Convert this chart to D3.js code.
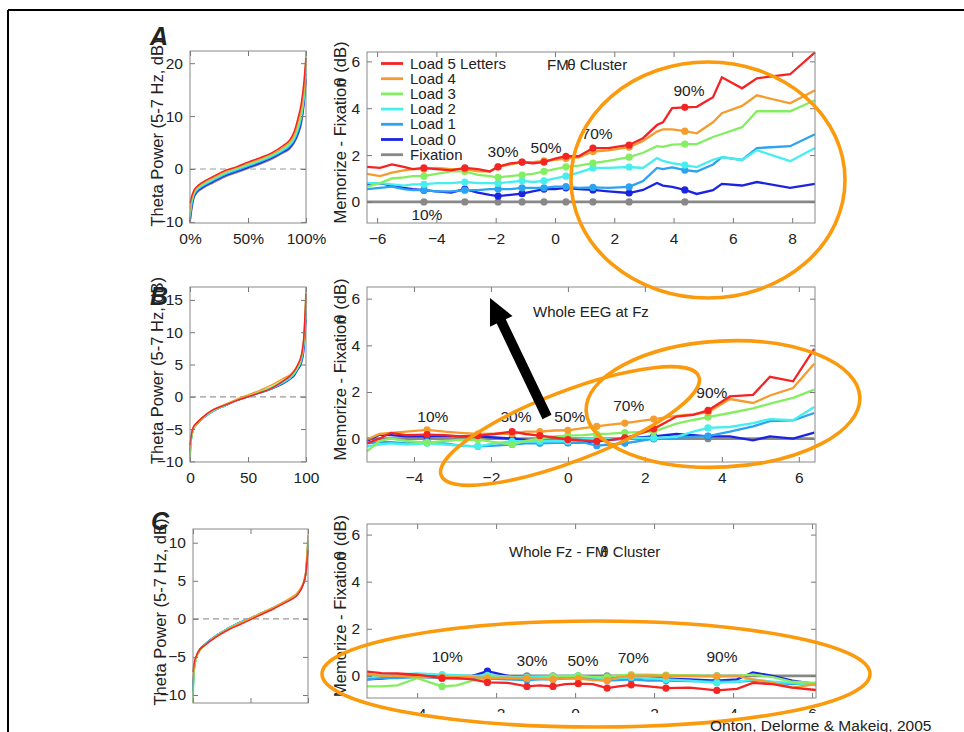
<!DOCTYPE html>
<html>
<head>
<meta charset="utf-8">
<script src="https://cdnjs.cloudflare.com/ajax/libs/d3/7.8.5/d3.min.js"></script>
<style>
  body { margin: 0; background: #fff; }
  text { font-family: "Liberation Sans", Arial, sans-serif; fill: #222; }
</style>
</head>
<body>
<div id="chart"></div>
<script>
var width = 964, height = 732;

// series: Load 5 .. Load 0, Fixation
var names = ["Load 5 Letters", "Load 4", "Load 3", "Load 2", "Load 1", "Load 0", "Fixation"];
var colors = ["#f42424", "#f59c2c", "#84ee62", "#46eeee", "#2ca2f2", "#1c24e2", "#888888"];

// left panels: sorted theta power by percentile
var pct = [0, 1, 3, 6, 10, 20, 30, 40, 50, 60, 70, 80, 86, 90, 93, 96, 98, 100];
var sortedA = [
  [-6.5, -5.5, -4.2, -3.3, -2.6, -1.4, -0.3, 0.4, 1.3, 2.1, 3.0, 4.4, 5.5, 7.2, 9.5, 12.5, 16, 21],
  [-7.5, -6, -4.5, -3.5, -2.8, -1.6, -0.5, 0.3, 1.1, 1.9, 2.8, 4.1, 5.2, 6.6, 8.8, 11.5, 14.5, 20],
  [-8.5, -6.5, -4.8, -3.7, -3.0, -1.8, -0.7, 0.1, 0.9, 1.7, 2.6, 3.9, 4.9, 6.2, 8.0, 10.5, 13.5, 22.3],
  [-9, -7, -5, -3.9, -3.2, -2.0, -0.9, -0.1, 0.7, 1.5, 2.4, 3.6, 4.6, 5.8, 7.5, 10, 13, 19],
  [-9.5, -7.5, -5.3, -4.1, -3.4, -2.2, -1.1, -0.3, 0.5, 1.3, 2.2, 3.4, 4.3, 5.5, 7.0, 9.5, 12.5, 18],
  [-10, -8, -5.6, -4.3, -3.6, -2.4, -1.3, -0.5, 0.3, 1.1, 2.0, 3.2, 4.0, 5.2, 6.6, 9, 12, 17],
  [-10.2, -8.5, -5.8, -4.5, -3.8, -2.6, -1.5, -0.7, 0.1, 0.9, 1.8, 3.0, 3.8, 5.0, 6.4, 8.5, 11.5, 16.5]
];
var sortedB = [
  [-7.5, -6, -4.6, -4.0, -3.3, -2.0, -1.3, -0.6, 0.0, 0.6, 1.3, 2.4, 3.2, 4.0, 5.0, 6.5, 9, 16],
  [-8, -6.3, -4.8, -4.1, -3.4, -2.0, -1.2, -0.4, 0.3, 1.0, 1.8, 2.8, 3.4, 4.1, 5.0, 6.3, 8.5, 15],
  [-10, -7, -5, -4.2, -3.4, -2.1, -1.3, -0.5, 0.1, 0.8, 1.5, 2.5, 3.1, 3.8, 4.6, 6.0, 8.5, 17],
  [-9.5, -6.8, -5, -4.2, -3.5, -2.2, -1.4, -0.6, 0.0, 0.6, 1.3, 2.2, 2.9, 3.6, 4.5, 5.8, 8, 14],
  [-9, -6.8, -5, -4.3, -3.5, -2.2, -1.4, -0.6, 0.0, 0.6, 1.2, 2.1, 2.8, 3.5, 4.4, 5.5, 7.5, 13],
  [-8.5, -6.5, -4.9, -4.2, -3.5, -2.2, -1.4, -0.6, 0.0, 0.6, 1.2, 2.0, 2.7, 3.3, 4.2, 5.2, 7, 12],
  [-9, -6.7, -5, -4.2, -3.5, -2.2, -1.4, -0.6, 0.0, 0.6, 1.3, 2.2, 2.9, 3.6, 4.5, 5.6, 7.8, 13.5]
];
var sortedC = [
  [-7, -5.8, -4.8, -4.0, -3.5, -2.4, -1.5, -0.8, -0.1, 0.6, 1.3, 2.1, 2.6, 3.0, 3.6, 4.6, 5.8, 9],
  [-8, -6.2, -5, -4.1, -3.5, -2.3, -1.4, -0.6, 0.1, 0.8, 1.5, 2.3, 2.9, 3.3, 3.9, 4.8, 6.2, 11],
  [-11, -7, -5.2, -4.2, -3.6, -2.3, -1.4, -0.6, 0.1, 0.8, 1.5, 2.3, 2.8, 3.2, 3.8, 4.7, 6, 10],
  [-10, -6.8, -5.1, -4.1, -3.5, -2.2, -1.3, -0.5, 0.1, 0.8, 1.5, 2.3, 2.8, 3.2, 3.8, 4.7, 6, 10.5],
  [-9.5, -6.6, -5.0, -4.0, -3.4, -2.2, -1.3, -0.5, 0.1, 0.8, 1.5, 2.2, 2.7, 3.2, 3.8, 4.7, 6, 10],
  [-9, -6.5, -5, -4.0, -3.4, -2.2, -1.3, -0.5, 0.1, 0.8, 1.4, 2.2, 2.7, 3.1, 3.7, 4.6, 5.9, 9.8],
  [-9.5, -6.7, -5, -4.0, -3.4, -2.2, -1.3, -0.5, 0.1, 0.8, 1.5, 2.3, 2.8, 3.2, 3.8, 4.7, 6, 10.2]
];

// right panels: memorize - fixation vs fixation theta power (dB)
var xA = [-6.34, -5.9, -5.5, -5.1, -4.8, -4.42, -4.0, -3.5, -3.04, -2.6, -2.2, -1.92, -1.5, -1.11, -0.75, -0.37, 0.0, 0.37, 0.8, 1.28, 1.8, 2.5, 2.97, 3.44, 3.64, 3.95, 4.38, 4.78, 5.33, 5.63, 6.31, 6.81, 7.93, 8.77];
var diffA = [
  [1.5, 1.45, 1.6, 1.5, 1.4, 1.45, 1.4, 1.35, 1.45, 1.4, 1.3, 1.5, 1.65, 1.7, 1.65, 1.7, 1.85, 1.95, 1.95, 2.3, 2.3, 2.43, 2.72, 3.28, 3.4, 4.0, 4.04, 4.06, 4.47, 5.32, 4.85, 5.28, 5.45, 6.38],
  [1.2, 1.1, 1.25, 1.35, 1.4, 1.4, 1.45, 1.4, 1.4, 1.3, 1.3, 1.5, 1.6, 1.7, 1.7, 1.75, 1.8, 1.85, 1.9, 2.15, 2.2, 2.34, 2.6, 3.0, 3.1, 3.1, 3.02, 2.93, 3.4, 3.79, 4.1, 4.55, 4.21, 4.77],
  [0.65, 0.8, 1.0, 1.05, 1.1, 1.1, 1.2, 1.3, 1.3, 1.15, 1.1, 1.05, 1.1, 1.15, 1.2, 1.3, 1.4, 1.5, 1.55, 1.66, 1.75, 1.91, 2.1, 2.38, 2.35, 2.45, 2.47, 2.47, 2.77, 2.9, 3.19, 3.87, 3.87, 4.34],
  [0.8, 0.8, 0.75, 0.7, 0.75, 0.75, 0.8, 0.8, 0.85, 0.8, 0.8, 0.8, 0.85, 0.9, 0.85, 0.9, 1.0, 1.1, 1.25, 1.45, 1.45, 1.49, 1.45, 1.87, 1.75, 1.66, 1.57, 1.49, 1.8, 1.91, 1.79, 2.21, 1.74, 2.3],
  [0.55, 0.6, 0.65, 0.55, 0.5, 0.5, 0.45, 0.45, 0.5, 0.5, 0.55, 0.55, 0.55, 0.6, 0.6, 0.6, 0.65, 0.65, 0.6, 0.62, 0.6, 0.64, 0.89, 1.45, 1.4, 1.47, 1.36, 1.3, 1.6, 1.91, 1.79, 2.3, 2.38, 2.89],
  [0.75, 0.8, 0.7, 0.6, 0.55, 0.5, 0.45, 0.4, 0.55, 0.4, 0.3, 0.25, 0.3, 0.35, 0.45, 0.55, 0.55, 0.6, 0.55, 0.51, 0.45, 0.38, 0.51, 0.81, 0.7, 0.64, 0.51, 0.34, 0.5, 0.77, 0.7, 0.85, 0.6, 0.77],
  [0, 0, 0, 0, 0, 0, 0, 0, 0, 0, 0, 0, 0, 0, 0, 0, 0, 0, 0, 0, 0, 0, 0, 0, 0, 0, 0, 0, 0, 0, 0, 0, 0, 0]
];
var decA = [5, 8, 11, 13, 15, 17, 19, 21, 26];

var xB = [-5.22, -4.9, -4.6, -4.2, -3.66, -3.2, -2.8, -2.34, -1.9, -1.45, -1.1, -0.73, -0.35, 0, 0.4, 0.75, 1.1, 1.48, 1.85, 2.23, 2.82, 3.26, 3.64, 4.21, 4.81, 5.25, 5.85, 6.4];
var diffB = [
  [-0.2, 0.0, 0.25, 0.15, 0.17, 0.15, 0.1, 0.13, 0.2, 0.3, 0.2, 0.13, 0.05, -0.04, -0.07, -0.11, -0.05, 0.03, 0.2, 0.42, 0.95, 1.02, 1.21, 1.81, 1.88, 2.65, 2.46, 3.85],
  [-0.04, 0.2, 0.25, 0.3, 0.38, 0.3, 0.25, 0.2, 0.22, 0.2, 0.3, 0.3, 0.35, 0.36, 0.45, 0.53, 0.6, 0.67, 0.75, 0.84, 0.98, 1.05, 1.13, 1.7, 1.53, 1.85, 2.17, 3.21],
  [-0.54, -0.1, 0.0, -0.1, -0.17, -0.1, -0.05, -0.04, -0.15, -0.25, -0.1, 0.0, 0.1, 0.13, 0.15, 0.2, 0.22, 0.26, 0.28, 0.3, 0.64, 0.8, 0.92, 1.1, 1.3, 1.5, 1.75, 2.1],
  [-0.33, -0.25, -0.2, -0.25, -0.2, -0.25, -0.3, -0.33, -0.2, -0.11, -0.12, -0.11, -0.11, -0.11, -0.02, 0.0, -0.02, 0.0, 0.03, 0.03, 0.08, 0.3, 0.46, 0.5, 0.67, 0.84, 0.79, 1.36],
  [-0.2, -0.15, -0.15, -0.2, -0.13, -0.2, -0.3, -0.33, -0.3, -0.25, -0.2, -0.2, -0.18, -0.18, -0.16, -0.3, -0.25, -0.2, -0.1, 0.0, 0.05, 0.08, 0.11, 0.3, 0.53, 0.75, 0.79, 1.1],
  [-0.1, 0.17, 0.15, 0.1, 0.1, 0.12, 0.1, 0.1, 0.05, 0.0, -0.05, -0.1, -0.15, -0.17, -0.16, -0.1, -0.05, 0.0, 0.05, 0.1, 0.2, 0.15, 0.1, 0.1, -0.07, 0.1, 0.0, 0.26],
  [0, 0, 0, 0, 0, 0, 0, 0, 0, 0, 0, 0, 0, 0, 0, 0, 0, 0, 0, 0, 0, 0, 0, 0, 0, 0, 0, 0]
];
var decB = [4, 7, 9, 11, 13, 15, 17, 19, 22];

var xC = [-5.27, -4.9, -4.5, -4.0, -3.37, -3.0, -2.6, -2.22, -1.7, -1.22, -0.9, -0.56, -0.25, 0.08, 0.45, 0.81, 1.1, 1.42, 1.85, 2.30, 2.9, 3.59, 4.1, 4.5, 5.0, 5.5, 6.1];
var diffC = [
  [0.18, 0.12, 0.1, 0.05, -0.1, -0.1, -0.15, -0.28, -0.3, -0.45, -0.4, -0.45, -0.35, -0.33, -0.35, -0.52, -0.45, -0.38, -0.45, -0.52, -0.5, -0.62, -0.55, -0.3, -0.35, -0.5, -0.6],
  [0.07, 0.0, 0.0, -0.05, -0.05, -0.05, -0.05, -0.1, -0.08, -0.1, -0.12, -0.15, -0.1, -0.12, -0.18, -0.2, -0.05, 0.0, 0.02, 0.0, 0.0, -0.02, 0.0, -0.15, -0.3, -0.5, -0.35],
  [-0.45, -0.45, -0.4, -0.1, -0.45, -0.4, -0.2, -0.05, -0.1, -0.1, -0.1, -0.05, 0.0, 0.0, -0.05, -0.05, 0.02, 0.05, 0.05, 0.03, 0.02, 0.0, 0.0, 0.05, -0.05, -0.25, -0.3],
  [-0.05, 0.0, 0.05, 0.1, 0.05, 0.03, 0.0, 0.02, -0.02, -0.05, -0.03, -0.02, 0.0, 0.0, -0.05, -0.15, -0.1, -0.05, -0.1, -0.15, -0.2, -0.3, -0.25, -0.15, -0.25, -0.3, -0.4],
  [-0.15, -0.1, -0.1, -0.05, -0.1, -0.12, -0.1, -0.12, -0.15, -0.18, -0.15, -0.15, -0.12, -0.1, -0.15, -0.2, -0.18, -0.15, -0.2, -0.2, -0.22, -0.25, -0.25, -0.2, -0.3, -0.35, -0.3],
  [-0.15, -0.12, -0.05, 0.05, 0.0, -0.05, 0.0, 0.2, 0.0, -0.05, -0.05, -0.08, -0.05, -0.02, -0.05, -0.1, -0.05, -0.05, -0.1, -0.12, -0.15, -0.2, -0.15, 0.15, 0.0, -0.2, -0.35],
  [0, 0, 0, 0, 0, 0, 0, 0, 0, 0, 0, 0, 0, 0, 0, 0, 0, 0, 0, 0, 0, 0, 0, 0, 0, 0, 0]
];
var decC = [4, 7, 9, 11, 13, 15, 17, 19, 21];

// percentile annotations (data units of each right panel)
var pctText = ["10%", "30%", "50%", "70%", "90%"];
var labAx = [-4.32, -1.75, -0.30, 1.42, 4.52], labAy = [-0.77, 1.91, 2.09, 2.68, 4.51];
var labBx = [-3.51, -1.35, 0.05, 1.58, 3.74], labBy = [0.71, 0.71, 0.71, 1.18, 1.73];
var labCx = [-3.24, -1.09, 0.20, 1.47, 3.72], labCy = [0.57, 0.40, 0.40, 0.53, 0.57];

var svg = d3.select("#chart").append("svg")
  .attr("width", width).attr("height", height);

function styleAxis(g) {
  g.select(".domain").remove();
  g.selectAll(".tick line").attr("stroke", "#777");
  g.selectAll("text").attr("font-size", 15.5)
    .attr("font-family", "Liberation Sans, Arial, sans-serif").attr("fill", "#222");
}

function frame(box, x, y, xTicks, yTicks, xFmt) {
  svg.append("g").attr("transform", "translate(0," + box.y1 + ")")
    .call(d3.axisBottom(x).tickValues(xTicks).tickSize(-5).tickPadding(10).tickFormat(xFmt))
    .call(styleAxis);
  svg.append("g").attr("transform", "translate(0," + box.y0 + ")")
    .call(d3.axisTop(x).tickValues(xTicks).tickSize(-5).tickFormat(""))
    .call(styleAxis);
  svg.append("g").attr("transform", "translate(" + box.x0 + ",0)")
    .call(d3.axisLeft(y).tickValues(yTicks).tickSize(-5).tickPadding(7))
    .call(styleAxis);
  svg.append("g").attr("transform", "translate(" + box.x1 + ",0)")
    .call(d3.axisRight(y).tickValues(yTicks).tickSize(-5).tickFormat(""))
    .call(styleAxis);
  svg.append("rect").attr("x", box.x0).attr("y", box.y0)
    .attr("width", box.x1 - box.x0).attr("height", box.y1 - box.y0)
    .attr("fill", "none").attr("stroke", "#888").attr("stroke-width", 1);
}

function sortedPanel(box, yDom, yTicks, xFmt, rows) {
  var x = d3.scaleLinear().domain([0, 100]).range([box.x0, box.x1]);
  var y = d3.scaleLinear().domain(yDom).range([box.y1, box.y0]);
  svg.append("line").attr("x1", box.x0).attr("x2", box.x1)
    .attr("y1", y(0)).attr("y2", y(0))
    .attr("stroke", "#999").attr("stroke-width", 1.2).attr("stroke-dasharray", "6,4");
  var line = d3.line().x(function(d, i) { return x(pct[i]); }).y(function(d) { return y(d); })
    .curve(d3.curveMonotoneX);
  for (var s = rows.length - 1; s >= 0; s--) {
    svg.append("path").attr("d", line(rows[s])).attr("fill", "none")
      .attr("stroke", colors[s]).attr("stroke-width", 1.5);
  }
  frame(box, x, y, [0, 50, 100], yTicks, xFmt);
  svg.append("text")
    .attr("transform", "translate(" + (box.x0 - 27) + "," + ((box.y0 + box.y1) / 2 - 4) + ") rotate(-90)")
    .attr("text-anchor", "middle").attr("font-size", 16.5)
    .text("Theta Power (5-7 Hz, dB)");
}

function diffPanel(box, xDom, yDom, xTicks, xs, rows, dec, labX, labY) {
  var x = d3.scaleLinear().domain(xDom).range([box.x0, box.x1]);
  var y = d3.scaleLinear().domain(yDom).range([box.y1, box.y0]);
  var line = d3.line().x(function(d, i) { return x(xs[i]); }).y(function(d) { return y(d); });
  for (var s = rows.length - 1; s >= 0; s--) {
    var w = s == rows.length - 1 ? 2.6 : 2.3;
    svg.append("path").attr("d", line(rows[s])).attr("fill", "none")
      .attr("stroke", colors[s]).attr("stroke-width", w);
    svg.append("g").selectAll("circle").data(dec).enter().append("circle")
      .attr("cx", function(k) { return x(xs[k]); })
      .attr("cy", function(k) { return y(rows[s][k]); })
      .attr("r", 3.6).attr("fill", colors[s]);
  }
  frame(box, x, y, xTicks, [0, 2, 4, 6], null);
  svg.append("g").selectAll("text").data(pctText).enter().append("text")
    .attr("x", function(d, i) { return x(labX[i]); })
    .attr("y", function(d, i) { return y(labY[i]); })
    .attr("text-anchor", "middle").attr("font-size", 15.5).text(function(d) { return d; });
  var t = svg.append("text")
    .attr("transform", "translate(" + (box.x0 - 21) + "," + ((box.y0 + box.y1) / 2 - 5) + ") rotate(-90)")
    .attr("text-anchor", "middle").attr("font-size", 16.5);
  t.append("tspan").text("Memorize - Fixation");
  t.append("tspan").attr("dx", -8).text("θ");
  t.append("tspan").text(" (dB)");
  return { x: x, y: y };
}

function titleText(px, py, parts) {
  var t = svg.append("text").attr("x", px).attr("y", py).attr("font-size", 15);
  parts.forEach(function(p) { t.append("tspan").attr("dx", p[1]).text(p[0]); });
}

// ---- Panel A
sortedPanel({ x0: 190, x1: 306, y0: 51, y1: 223 }, [-10.2, 22.3], [-10, 0, 10, 20],
  function(d) { return d + "%"; }, sortedA);
diffPanel({ x0: 367, x1: 815, y0: 52, y1: 223 }, [-6.34, 8.77], [-0.9, 6.4],
  [-6, -4, -2, 0, 2, 4, 6, 8], xA, diffA, decA, labAx, labAy);
titleText(547, 70, [["FM", 0], ["θ", -1.5], [" Cluster", 0]]);

// legend
var legend = svg.append("g").selectAll("g").data(names).enter().append("g")
  .attr("transform", function(d, i) { return "translate(381," + (63.5 + i * 15.2) + ")"; });
legend.append("line").attr("x1", 0).attr("x2", 22)
  .attr("stroke", function(d, i) { return colors[i]; }).attr("stroke-width", 2.8);
legend.append("text").attr("x", 29).attr("y", 5).attr("font-size", 15).text(function(d) { return d; });

// ---- Panel B
sortedPanel({ x0: 190, x1: 306, y0: 287, y1: 462 }, [-10.1, 17], [-10, -5, 0, 5, 10, 15],
  null, sortedB);
diffPanel({ x0: 367, x1: 815, y0: 287, y1: 462 }, [-5.22, 6.42], [-1.0, 6.5],
  [-4, -2, 0, 2, 4, 6], xB, diffB, decB, labBx, labBy);
titleText(533, 317, [["Whole EEG at Fz", 0]]);

// ---- Panel C
sortedPanel({ x0: 193, x1: 308, y0: 529, y1: 703 }, [-11.05, 11.8], [-10, -5, 0, 5, 10],
  function() { return ""; }, sortedC);
diffPanel({ x0: 367, x1: 816, y0: 524, y1: 698 }, [-5.27, 6.1], [-0.94, 6.45],
  [-4, -2, 0, 2, 4, 6], xC, diffC, decC, labCx, labCy);
titleText(509, 557, [["Whole Fz - FM", 0], ["θ", -7], [" Cluster", 0]]);

// bottom strip cut off
svg.append("rect").attr("x", 330).attr("y", 713).attr("width", 520).attr("height", 19).attr("fill", "#fff");

// panel letters
[["A", 150, 45], ["B", 150, 305], ["C", 151, 530]].forEach(function(p) {
  svg.append("text").attr("x", p[1]).attr("y", p[2]).attr("font-size", 25)
    .attr("font-weight", "bold").attr("font-style", "italic").attr("fill", "#111").text(p[0]);
});

// orange highlight ellipses
var ellipses = [
  { cx: 708, cy: 180, rx: 137, ry: 118, rot: 0 },
  { cx: 723, cy: 404, rx: 137, ry: 63, rot: -3 },
  { cx: 570, cy: 426, rx: 138, ry: 35, rot: -21 },
  { cx: 596, cy: 674, rx: 274, ry: 53, rot: 0 }
];
svg.append("g").selectAll("ellipse").data(ellipses).enter().append("ellipse")
  .attr("transform", function(d) { return "translate(" + d.cx + "," + d.cy + ") rotate(" + d.rot + ")"; })
  .attr("rx", function(d) { return d.rx; }).attr("ry", function(d) { return d.ry; })
  .attr("fill", "none").attr("stroke", "#fb9a0c").attr("stroke-width", 3.6);

// black arrow
(function() {
  var tip = [490, 298], tail = [547, 417];
  var dx = tip[0] - tail[0], dy = tip[1] - tail[1], len = Math.sqrt(dx * dx + dy * dy);
  var ux = dx / len, uy = dy / len, nx = -uy, ny = ux;
  var hl = 26, hw = 12.5, sw = 5;
  var bx = tip[0] - ux * hl, by = tip[1] - uy * hl;
  var pts = [
    [tail[0] + nx * sw, tail[1] + ny * sw], [bx + nx * sw, by + ny * sw], [bx + nx * hw, by + ny * hw],
    tip, [bx - nx * hw, by - ny * hw], [bx - nx * sw, by - ny * sw], [tail[0] - nx * sw, tail[1] - ny * sw]
  ];
  svg.append("polygon").attr("points", pts.map(function(p) { return p.join(","); }).join(" "))
    .attr("fill", "#000");
})();

// figure border
svg.append("line").attr("x1", 8).attr("x2", 964).attr("y1", 10).attr("y2", 10)
  .attr("stroke", "#000").attr("stroke-width", 2);
svg.append("line").attr("x1", 8).attr("x2", 8).attr("y1", 10).attr("y2", 732)
  .attr("stroke", "#000").attr("stroke-width", 2);

svg.append("text").attr("x", 710).attr("y", 731).attr("font-size", 15.5)
  .text("Onton, Delorme & Makeig, 2005");
</script>
</body>
</html>
